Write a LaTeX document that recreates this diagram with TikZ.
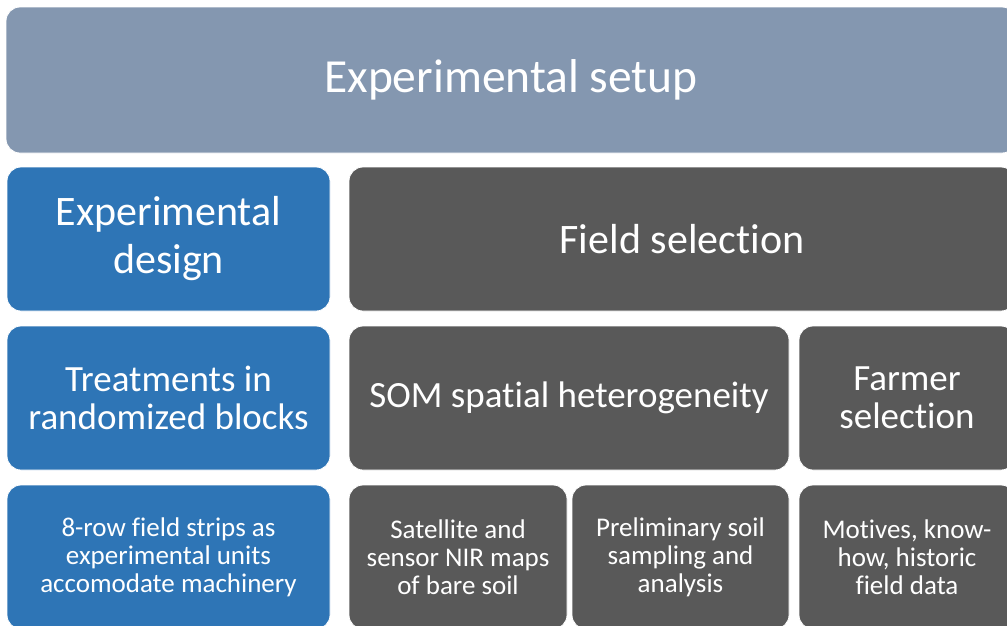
\documentclass[tikz,border=0pt]{standalone}
\usepackage{fontspec}
\setmainfont[Ligatures={NoCommon}]{Carlito}
\definecolor{setupfill}{HTML}{8497B0}
\definecolor{designfill}{HTML}{2E75B6}
\definecolor{fieldfill}{HTML}{595959}
\begin{document}
\begin{tikzpicture}[x=1pt,y=-1pt,
  box/.style={rounded corners=14pt, draw=white, line width=0.8pt,
    text=white, align=center, inner sep=0pt},
  titlebox/.style={box, fill=setupfill, minimum height=146pt,
    font=\fontsize{47.5}{56}\selectfont},
  bluebox/.style={box, fill=designfill, minimum height=144pt},
  graybox/.style={box, fill=fieldfill, minimum height=144pt},
  big/.style={font=\fontsize{42}{48}\selectfont},
  mid/.style={font=\fontsize{37}{38}\selectfont},
  small/.style={font=\fontsize{27}{28}\selectfont}]
\useasboundingbox (0,0) rectangle (1007,625);
\clip (0,0) rectangle (1007,625);

% header
\node[titlebox, minimum width=1010pt] (setup) at (511,80) {Experimental setup};

% second row
\node[bluebox, big, minimum width=323pt] (design) at (168.5,239) {Experimental\\design};
\node[graybox, big, minimum width=666pt] (field) at (682,239) {Field selection};

% third row
\node[bluebox, mid, minimum width=323pt] (treat) at (168.5,398) {Treatments in\\randomized blocks};
\node[graybox, mid, minimum width=440pt] (som) at (569,398) {SOM spatial heterogeneity};
\node[graybox, mid, minimum width=216pt] (farmer) at (907,398) {Farmer\\selection};

% fourth row
\node[bluebox, small, minimum width=323pt] (strips) at (168.5,557) {8-row field strips as\\experimental units\\accomodate machinery};
\node[graybox, small, minimum width=218pt] (sat) at (458,557) {Satellite and\\sensor NIR maps\\of bare soil};
\node[graybox, small, minimum width=217pt] (prelim) at (680.5,557) {Preliminary soil\\sampling and\\analysis};
\node[graybox, small, minimum width=216pt] (motives) at (907,557) {Motives, know-\\how, historic\\field data};
\end{tikzpicture}
\end{document}
